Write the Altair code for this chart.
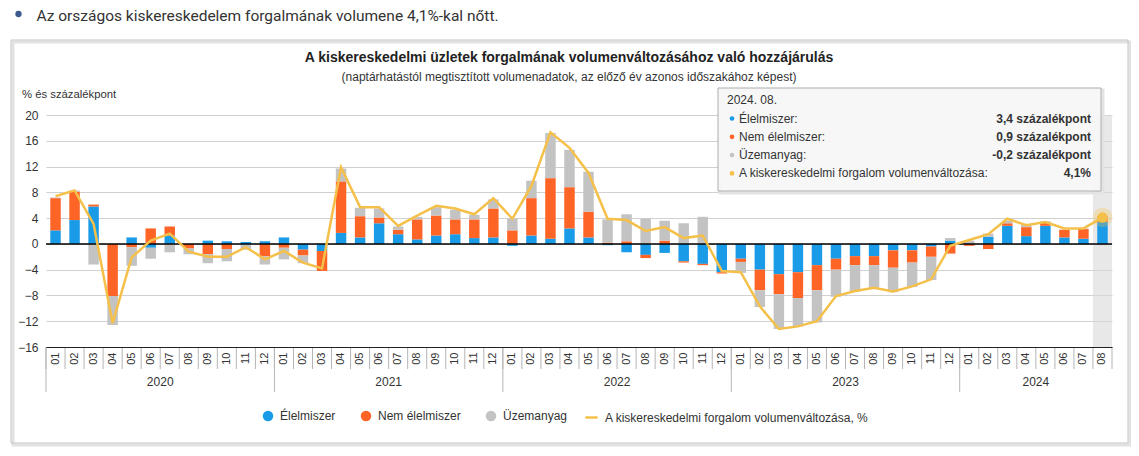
import altair as alt
import pandas as pd

FONT = "Liberation Sans"

years = ["2020", "2021", "2022", "2023", "2024"]
months = [f"{y}-{m:02d}" for y in years[:-1] for m in range(1, 13)] + [f"2024-{m:02d}" for m in range(1, 9)]

series_names = ["Élelmiszer", "Nem élelmiszer", "Üzemanyag"]
LINE_NAME = "A kiskereskedelmi forgalom volumenváltozása, %"
colors = ["#1A9BE8", "#FF6427", "#C3C3C3", "#F5C04A"]

elelmiszer = [2.1, 3.7, 5.8, 0.0, 1.0, -0.6, 1.3, 0.0, 0.5, 0.4, 0.3, 0.4,
              1.0, -0.9, -1.1, 1.7, 1.0, 3.2, 1.5, 0.7, 1.3, 1.5, 0.9, 1.0,
              -0.3, 1.3, 0.8, 2.4, 1.0, -0.2, -1.3, -1.7, -1.4, -2.7, -3.1, -4.4,
              -2.3, -4.0, -4.7, -4.4, -3.3, -2.3, -1.9, -1.9, -1.0, -1.0, -0.4, 0.5,
              0.1, 1.1, 2.8, 1.2, 2.8, 1.0, 0.8, 3.4]
nem_elelmiszer = [5.0, 4.4, 0.3, -8.1, -0.5, 2.4, 1.4, -0.7, -1.6, -0.8, 0.0, -1.9,
                  -0.6, -0.9, -3.1, 8.0, 3.3, 0.9, 0.7, 3.1, 3.1, 2.3, 2.9, 4.5,
                  2.1, 5.8, 9.4, 6.4, 4.0, 0.2, 0.4, -0.5, 0.5, -0.2, -0.2, -0.2,
                  -0.5, -3.2, -3.1, -4.0, -3.9, -1.7, -1.4, -1.4, -2.7, -1.9, -1.6, -1.5,
                  -0.3, -0.8, 0.4, 1.4, 0.5, 1.2, 1.5, 0.9]
uzemanyag = [0.1, 0.2, -3.2, -4.5, -2.9, -1.7, -1.3, -0.9, -1.4, -1.9, -0.9, -1.3,
             -1.8, -1.2, 0.0, 2.0, 1.3, 1.4, 0.5, 0.4, 1.3, 1.5, 0.7, 1.4,
             1.8, 2.7, 7.0, 5.8, 6.2, 3.6, 4.2, 3.9, 3.1, 3.2, 4.2, 0.0,
             -1.7, -2.6, -5.4, -4.4, -5.0, -4.2, -4.1, -3.5, -3.8, -3.8, -3.6, 0.4,
             0.4, 0.5, 0.4, 0.5, 0.2, 0.0, 0.1, -0.2]
osszesen = [7.4, 8.3, 3.1, -12.3, -2.1, 0.5, 1.6, -1.2, -2.0, -2.0, -0.5, -2.4,
            -1.1, -2.9, -3.8, 11.9, 5.7, 5.7, 2.8, 4.4, 5.9, 5.5, 4.6, 7.1,
            3.9, 9.0, 17.3, 14.9, 11.0, 3.9, 3.7, 2.0, 2.6, 0.9, 1.3, -4.2,
            -4.4, -9.7, -13.2, -12.8, -12.0, -8.1, -7.3, -6.8, -7.4, -6.6, -5.5, -0.3,
            0.6, 1.5, 3.9, 2.9, 3.4, 2.4, 2.4, 4.1]
y_ticks = list(range(-16, 21, 4))

W, H = 1066, 232
step = W / len(months)

# ---------- data tables ----------
rows = []
for i, m in enumerate(months):
    for k, (name, arr) in enumerate(zip(series_names, [elelmiszer, nem_elelmiszer, uzemanyag])):
        rows.append({"month": m, "series": name, "value": arr[i], "ord": k})
bars_df = pd.DataFrame(rows)
line_df = pd.DataFrame({"month": months, "value": osszesen})
hl_df = pd.DataFrame({"month": [months[-1]], "value": [osszesen[-1]]})
month_df = pd.DataFrame({"month": months})
last_df = pd.DataFrame({"month": [months[-1]]})
year_start_df = pd.DataFrame({"month": [f"{y}-01" for y in years]})
year_label_df = pd.DataFrame({"month": ["2020-06", "2021-06", "2022-06", "2023-06", "2024-04"], "year": years})
one = pd.DataFrame({"k": [0]})

xscale = alt.Scale(domain=months, paddingInner=0, paddingOuter=0)
xaxis = alt.Axis(title=None, labelExpr="substring(datum.value, 5, 7)", labelAngle=270,
                 labelFont=FONT, labelFontSize=11, labelColor="#333", labelPadding=5,
                 ticks=False, domainColor="#222", domainWidth=1, grid=False)
X = alt.X("month:N", scale=xscale, axis=xaxis)
yscale = alt.Scale(domain=[-16, 20], nice=False, zero=False)
yaxis = alt.Axis(title=None, values=y_ticks, labelFont=FONT, labelFontSize=12, labelColor="#333",
                 labelPadding=8, labelOverlap=False, ticks=False, domain=False, grid=True,
                 gridColor="#d0d0d0")
Y = alt.Y("value:Q", scale=yscale, axis=yaxis)

bar_legend = alt.Legend(title=None, orient="none", direction="horizontal", legendX=216, legendY=295,
                        labelFont=FONT, labelFontSize=12, labelColor="#333", symbolSize=110,
                        columnPadding=24, labelOffset=6, symbolType="circle", symbolOpacity=1)
line_legend = alt.Legend(title=None, orient="none", direction="horizontal", legendX=538, legendY=295,
                         labelFont=FONT, labelFontSize=12, labelColor="#333", symbolSize=150,
                         labelOffset=6, labelLimit=500, symbolType="stroke", symbolStrokeWidth=2.5)

layers = []

# outer box (shadow + border)
layers.append(alt.Chart(one).mark_rect(fill="transparent", stroke="#e2e2e2", strokeWidth=3).encode(
    x=alt.value(-33), x2=alt.value(1084), y=alt.value(-73), y2=alt.value(330)))
layers.append(alt.Chart(one).mark_rect(fill="transparent", stroke="#c4c4c4", strokeWidth=1).encode(
    x=alt.value(-35), x2=alt.value(1082), y=alt.value(-75), y2=alt.value(328)))

# heading bullet + text
layers.append(alt.Chart(one).mark_point(filled=True, color="#3d5b8e", size=40, opacity=1).encode(
    x=alt.value(-27.5), y=alt.value(-101)))
headline = f"Az országos kiskereskedelem forgalmának volumene {str(osszesen[-1]).replace('.', ',')}%-kal nőtt."
layers.append(alt.Chart(pd.DataFrame({"t": [headline]})).mark_text(
    align="left", baseline="alphabetic", font="Roboto", fontSize=15.5, color="#333").encode(
    x=alt.value(-9.5), y=alt.value(-94.5), text="t:N"))

# titles
layers.append(alt.Chart(pd.DataFrame({"t": ["A kiskereskedelmi üzletek forgalmának volumenváltozásához való hozzájárulás"]})).mark_text(
    align="center", baseline="middle", font=FONT, fontSize=14, fontWeight="bold", color="#222").encode(
    x=alt.value(523), y=alt.value(-57), text="t:N"))
layers.append(alt.Chart(pd.DataFrame({"t": ["(naptárhatástól megtisztított volumenadatok, az előző év azonos időszakához képest)"]})).mark_text(
    align="center", baseline="middle", font=FONT, fontSize=12, color="#333").encode(
    x=alt.value(523), y=alt.value(-38), text="t:N"))
layers.append(alt.Chart(pd.DataFrame({"t": ["% és százalékpont"]})).mark_text(
    align="left", baseline="middle", font=FONT, fontSize=11.3, color="#333").encode(
    x=alt.value(-24), y=alt.value(-20), text="t:N"))

# hover highlight band
layers.append(alt.Chart(hl_df).mark_rect(fill="#d9d9d9", opacity=0.6).encode(
    x=X, y=alt.value(0), y2=alt.value(H)))

# stacked bars
layers.append(alt.Chart(bars_df).mark_bar(width={"band": 0.55}).encode(
    x=X, y=Y,
    color=alt.Color("series:N", scale=alt.Scale(domain=series_names, range=colors[:3]), legend=bar_legend),
    order=alt.Order("ord:Q", sort="ascending")))

# zero line
layers.append(alt.Chart(one).mark_rule(color="#000", strokeWidth=1.5).encode(
    y=alt.datum(0, scale=yscale, axis=yaxis)))

# total line
layers.append(alt.Chart(line_df).mark_line(strokeWidth=2.5).encode(
    x=X, y=Y,
    stroke=alt.Stroke("name:N", scale=alt.Scale(domain=[LINE_NAME], range=[colors[3]]), legend=line_legend)
).transform_calculate(name=f"'{LINE_NAME}'"))

# highlighted point
layers.append(alt.Chart(hl_df).mark_circle(color=colors[3], size=380, opacity=0.3).encode(x=X, y=Y))
layers.append(alt.Chart(hl_df).mark_circle(color=colors[3], size=110, opacity=1).encode(x=X, y=Y))

# month separators, year separators and year labels
layers.append(alt.Chart(month_df).mark_rule(color="#b5b5b5", strokeWidth=1, xOffset=-step / 2).encode(
    x=X, y=alt.value(H), y2=alt.value(H + 22)))
layers.append(alt.Chart(last_df).mark_rule(color="#b5b5b5", strokeWidth=1, xOffset=step / 2).encode(
    x=X, y=alt.value(H), y2=alt.value(H + 22)))
layers.append(alt.Chart(year_start_df).mark_rule(color="#b5b5b5", strokeWidth=1, xOffset=-step / 2).encode(
    x=X, y=alt.value(H), y2=alt.value(H + 45)))
layers.append(alt.Chart(year_label_df).mark_text(font=FONT, fontSize=12, color="#333", dx=step / 2,
                                                 baseline="middle").encode(
    x=X, y=alt.value(H + 35), text="year:N"))

# tooltip box
TX0, TX1, TY0, TY1 = 672, 1055, -27, 76
layers.append(alt.Chart(one).mark_rect(fill="transparent", stroke="#e3e3e3", strokeWidth=3).encode(
    x=alt.value(TX0 + 2), x2=alt.value(TX1 + 2), y=alt.value(TY0 + 2), y2=alt.value(TY1 + 2)))
layers.append(alt.Chart(one).mark_rect(fill="#f7f7f7", opacity=0.96, stroke="#aaaaaa", strokeWidth=1).encode(
    x=alt.value(TX0), x2=alt.value(TX1), y=alt.value(TY0), y2=alt.value(TY1)))
header = months[-1].replace("-", ". ") + "."
layers.append(alt.Chart(pd.DataFrame({"t": [header]})).mark_text(
    align="left", baseline="middle", font=FONT, fontSize=12, color="#333").encode(
    x=alt.value(681), y=alt.value(-15), text="t:N"))

tip_labels = [s + ":" for s in series_names] + ["A kiskereskedelmi forgalom volumenváltozása:"]
fmt = lambda v: f"{v:.1f}".replace(".", ",")
tip_values = [fmt(elelmiszer[-1]) + " százalékpont", fmt(nem_elelmiszer[-1]) + " százalékpont",
              fmt(uzemanyag[-1]) + " százalékpont", fmt(osszesen[-1]) + "%"]
row_y = [3.5, 21.8, 40.1, 58.4]
for lab, val, col, yy in zip(tip_labels, tip_values, colors, row_y):
    layers.append(alt.Chart(one).mark_circle(color=col, size=22, opacity=1).encode(
        x=alt.value(686), y=alt.value(yy)))
    layers.append(alt.Chart(pd.DataFrame({"t": [lab]})).mark_text(
        align="left", baseline="middle", font=FONT, fontSize=12, color="#333").encode(
        x=alt.value(693), y=alt.value(yy), text="t:N"))
    layers.append(alt.Chart(pd.DataFrame({"t": [val]})).mark_text(
        align="right", baseline="middle", font=FONT, fontSize=12, fontWeight="bold", color="#333").encode(
        x=alt.value(1045), y=alt.value(yy), text="t:N"))

chart = alt.layer(*layers).properties(
    width=W, height=H,
    autosize=alt.AutoSizeParams(type="none"),
    padding={"left": 38, "top": 107, "right": 19, "bottom": 100},
).configure(font=FONT).configure_view(stroke=None)

chart.save("out.html", embed_options={"renderer": "svg", "actions": False})
